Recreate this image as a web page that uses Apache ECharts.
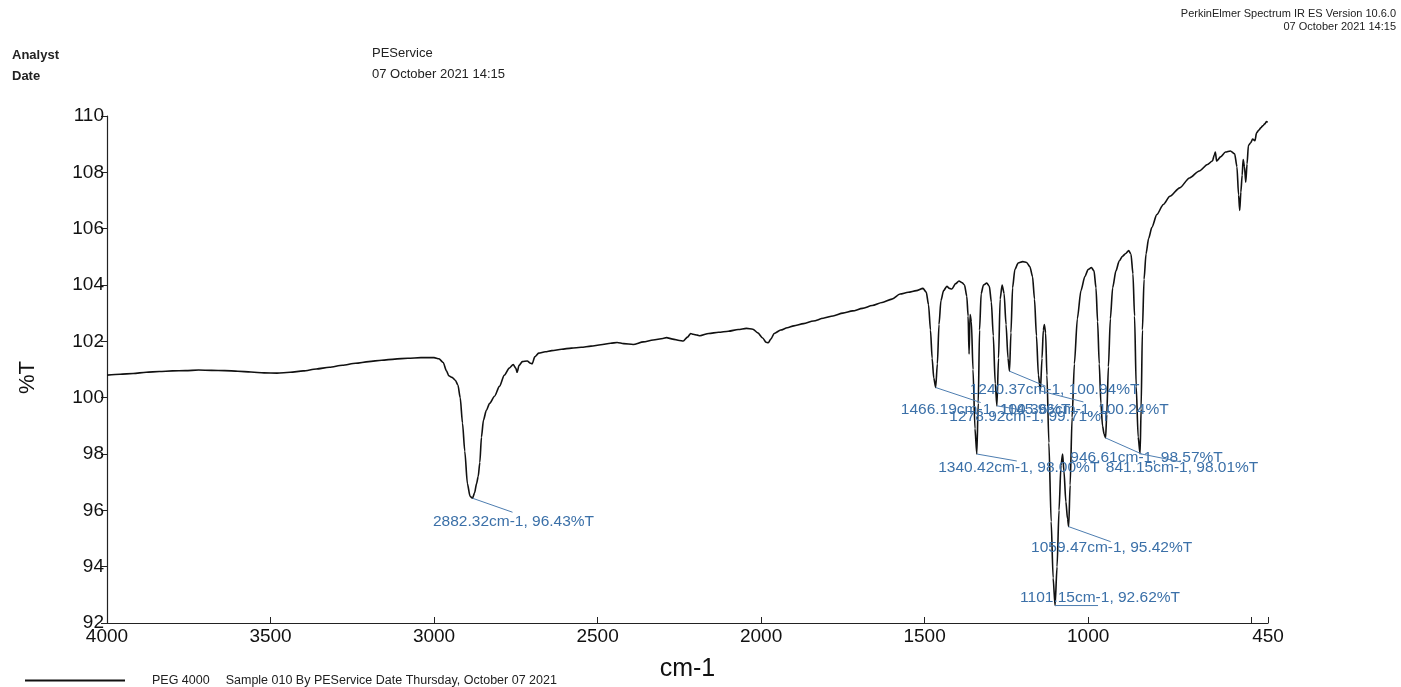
<!DOCTYPE html>
<html>
<head>
<meta charset="utf-8">
<title>PEG 4000 IR spectrum</title>
<script src="https://cdn.jsdelivr.net/npm/echarts@6/dist/echarts.min.js"></script>
<style>
  html, body { margin: 0; padding: 0; background: #fff; }
  #chart { width: 1401px; height: 687px; }
</style>
</head>
<body>
<div id="chart"></div>
<script>
// Spectrum trace: wavenumber (cm-1) and transmittance (%T)
const wavenumbers = [
  4000, 3960, 3920, 3880, 3840, 3800, 3760, 3720, 3680, 3640, 3600, 3560, 3520, 3480, 3440, 3400,
  3360, 3320, 3280, 3240, 3200, 3160, 3120, 3080, 3040, 3000, 2985, 2972, 2962, 2955, 2945, 2935,
  2927, 2920, 2913, 2906, 2898, 2890, 2882.32, 2876, 2870, 2865, 2860, 2855, 2849, 2840, 2830, 2815,
  2800, 2785, 2770, 2758, 2750, 2746, 2740, 2730, 2715, 2705, 2700, 2692, 2680, 2660, 2640, 2610,
  2580, 2550, 2520, 2490, 2460, 2440, 2420, 2391, 2360, 2330, 2300, 2289, 2270, 2250, 2238, 2225,
  2215, 2208, 2195, 2187, 2160, 2130, 2100, 2070, 2045, 2025, 2010, 1995, 1985, 1978, 1970, 1960,
  1940, 1920, 1900, 1870, 1840, 1810, 1780, 1750, 1720, 1690, 1660, 1630, 1600, 1575, 1550, 1525,
  1505, 1495, 1488, 1482, 1477, 1472, 1466.19, 1461, 1456, 1450, 1442, 1432, 1424, 1417, 1405, 1395,
  1385, 1378, 1371, 1367, 1364, 1361, 1357, 1352, 1346, 1340.42, 1336, 1332, 1327, 1320, 1310, 1302,
  1296, 1290, 1284, 1278.92, 1274, 1269, 1263, 1257, 1251, 1245, 1240.37, 1236, 1231, 1224, 1214, 1200,
  1188, 1178, 1170, 1164, 1158, 1152, 1145.96, 1141, 1137, 1134, 1130, 1126, 1120, 1113, 1107, 1101.15,
  1095, 1089, 1083, 1078, 1074, 1068, 1063, 1059.47, 1055, 1049, 1042, 1033, 1022, 1010, 1000, 990,
  982, 976, 971, 966, 961, 956, 951, 946.61, 943, 938, 932, 925, 915, 905, 895, 885,
  876, 869, 863, 858, 853, 847, 841.15, 838, 834, 829, 823, 815, 805, 790, 770, 750,
  720, 690, 660, 635, 620, 614, 611, 607, 595, 580, 565, 552, 545, 540, 536.5, 533,
  529, 526, 522, 518, 514, 510, 503, 497, 490, 485, 478, 472, 466, 460, 455, 451
];
const transmittance = [
  100.80, 100.83, 100.86, 100.90, 100.93, 100.95, 100.96, 100.98, 100.97, 100.96, 100.94, 100.91, 100.88, 100.87, 100.90, 100.95,
  101.02, 101.08, 101.15, 101.22, 101.28, 101.33, 101.37, 101.40, 101.42, 101.42, 101.38, 101.25, 100.95, 100.78, 100.72, 100.62,
  100.45, 100.00, 99.10, 98.10, 96.95, 96.50, 96.43, 96.62, 96.95, 97.20, 97.70, 98.60, 99.20, 99.55, 99.80, 100.05,
  100.40, 100.80, 101.05, 101.18, 101.05, 100.90, 101.15, 101.28, 101.30, 101.22, 101.20, 101.45, 101.58, 101.63, 101.67, 101.72,
  101.76, 101.79, 101.83, 101.88, 101.93, 101.96, 101.92, 101.89, 101.98, 102.05, 102.10, 102.13, 102.08, 102.03, 102.01, 102.15,
  102.28, 102.25, 102.22, 102.20, 102.28, 102.32, 102.36, 102.42, 102.46, 102.43, 102.30, 102.12, 101.97, 101.95, 102.08, 102.28,
  102.40, 102.48, 102.55, 102.63, 102.72, 102.82, 102.90, 103.00, 103.08, 103.17, 103.27, 103.38, 103.50, 103.68, 103.74, 103.80,
  103.88, 103.75, 103.30, 102.40, 101.40, 100.70, 100.36, 101.20, 102.60, 103.45, 103.80, 103.95, 103.88, 103.86, 104.05, 104.14,
  104.08, 104.00, 103.60, 102.90, 101.55, 102.95, 102.70, 101.00, 98.90, 98.00, 99.80, 102.40, 103.70, 104.00, 104.07, 103.95,
  103.40, 102.20, 100.50, 99.71, 101.40, 103.50, 104.00, 103.70, 102.60, 101.40, 100.94, 102.30, 103.90, 104.55, 104.78, 104.83,
  104.80, 104.65, 104.30, 103.50, 102.20, 100.80, 100.24, 101.40, 102.40, 102.60, 102.30, 100.80, 98.40, 95.60, 93.60, 92.62,
  94.00, 96.00, 97.60, 98.00, 97.40, 96.30, 95.70, 95.42, 96.90, 99.30, 101.20, 102.80, 103.80, 104.30, 104.55, 104.62,
  104.50, 103.90, 102.70, 101.20, 99.80, 99.00, 98.70, 98.57, 99.40, 101.10, 102.80, 103.90, 104.50, 104.85, 105.02, 105.12,
  105.22, 105.10, 104.40, 102.90, 100.40, 98.60, 98.01, 99.60, 102.40, 104.20, 105.10, 105.65, 106.05, 106.50, 106.86, 107.15,
  107.45, 107.80, 108.05, 108.28, 108.40, 108.62, 108.72, 108.40, 108.55, 108.72, 108.76, 108.66, 108.20, 107.20, 106.65, 107.30,
  107.90, 108.45, 108.20, 107.65, 108.30, 108.95, 109.05, 109.18, 109.12, 109.40, 109.50, 109.58, 109.65, 109.72, 109.80, 109.78
];

// Peak picks
const peakWavenumbers = [2882.32, 1466.19, 1340.42, 1278.92, 1240.37, 1145.96, 1101.15, 1059.47, 946.61, 841.15];
const peakTransmittance = [96.43, 100.36, 98.00, 99.71, 100.94, 100.24, 92.62, 95.42, 98.57, 98.01];

// Axis ticks
const xTickValues = [4000, 3500, 3000, 2500, 2000, 1500, 1000, 500, 450];
const xLabelValues = [4000, 3500, 3000, 2500, 2000, 1500, 1000, 450];

const sampleName = 'PEG 4000';
const sampleInfo = 'Sample 010 By PEService Date Thursday, October 07 2021';

// Leader line end and label centre, in pixels from each peak: [lineDx, lineDy, textDx, textDy]
const peakLabelLayout = [
  [40, 14, 41, 23],
  [45, 15, 50, 22],
  [40, 7, 42, 14],
  [30, 5, 33, 11],
  [36, 15, 45, 19],
  [43, 11, 44, 19],
  [43, 0, 45, -8],
  [42, 15, 43, 21],
  [36, 16, 41, 20],
  [40, 8, 42, 14]
];

const FONT = '"Liberation Sans", Arial, Helvetica, sans-serif';
const PEAK_BLUE = '#3b70a8';

const trace = wavenumbers.map((w, i) => [w, transmittance[i]]);
const peaks = peakWavenumbers.map((w, i) => [w, peakTransmittance[i]]);

const chart = echarts.init(document.getElementById('chart'), null, { renderer: 'canvas' });

chart.setOption({
  animation: false,
  backgroundColor: '#ffffff',
  textStyle: { fontFamily: FONT },
  grid: { left: 107, right: 133, top: 116, bottom: 63, containLabel: false },
  graphic: [
    { type: 'text', right: 5, top: 8, style: { text: 'PerkinElmer Spectrum IR ES Version 10.6.0', font: '11px ' + FONT, fill: '#222', align: 'right' } },
    { type: 'text', right: 5, top: 21, style: { text: '07 October 2021 14:15', font: '11px ' + FONT, fill: '#222', align: 'right' } },
    { type: 'text', left: 12, top: 49, style: { text: 'Analyst', font: 'bold 13px ' + FONT, fill: '#222' } },
    { type: 'text', left: 12, top: 70, style: { text: 'Date', font: 'bold 13px ' + FONT, fill: '#222' } },
    { type: 'text', left: 372, top: 47, style: { text: 'PEService', font: '13px ' + FONT, fill: '#222' } },
    { type: 'text', left: 372, top: 68, style: { text: '07 October 2021 14:15', font: '13px ' + FONT, fill: '#222' } }
  ],
  legend: {
    data: [sampleName],
    left: 20,
    top: 669,
    icon: 'rect',
    itemWidth: 100,
    itemHeight: 2,
    formatter: name => '{a|' + name + '}{b|' + sampleInfo + '}',
    textStyle: {
      color: '#222',
      fontFamily: FONT,
      rich: {
        a: { fontSize: 12.5, color: '#222', fontFamily: FONT, padding: [0, 0, 0, 22] },
        b: { fontSize: 12.5, color: '#222', fontFamily: FONT, padding: [0, 0, 0, 16] }
      }
    },
    selectedMode: false
  },
  xAxis: {
    type: 'value',
    inverse: true,
    min: 450,
    max: 4000,
    name: 'cm-1',
    nameLocation: 'middle',
    nameGap: 34,
    nameTextStyle: { fontSize: 25, color: '#111', fontFamily: FONT },
    axisLine: { lineStyle: { color: '#222', width: 1.2 } },
    axisTick: { inside: true, length: 6, customValues: xTickValues, lineStyle: { color: '#222' } },
    axisLabel: { customValues: xLabelValues, formatter: v => String(v), fontSize: 19, color: '#111', margin: 4, fontFamily: FONT },
    splitLine: { show: false }
  },
  yAxis: {
    type: 'value',
    min: 92,
    max: 110,
    interval: 2,
    name: '%T',
    nameLocation: 'middle',
    nameRotate: 90,
    nameGap: 68,
    nameTextStyle: { fontSize: 22, color: '#111', fontFamily: FONT, padding: [0, 16, 0, 0] },
    axisLine: { show: true, lineStyle: { color: '#222', width: 1.2 } },
    axisTick: { show: true, inside: false, length: 6, lineStyle: { color: '#222' } },
    axisLabel: { formatter: v => String(v), fontSize: 19, color: '#111', margin: 3, fontFamily: FONT },
    splitLine: { show: false }
  },
  series: [
    {
      name: sampleName,
      type: 'line',
      data: trace,
      showSymbol: false,
      smooth: 0.25,
      smoothMonotone: 'x',
      color: '#111',
      lineStyle: { color: '#111', width: 1.6 },
      z: 3
    },
    {
      name: 'peaks',
      type: 'custom',
      data: peaks,
      encode: { x: 0, y: 1 },
      clip: false,
      z: 5,
      renderItem: (params, api) => {
        const i = params.dataIndex;
        const p = api.coord([api.value(0), api.value(1)]);
        const o = peakLabelLayout[i];
        const label = peakWavenumbers[i].toFixed(2) + 'cm-1, ' + peakTransmittance[i].toFixed(2) + '%T';
        return {
          type: 'group',
          children: [
            { type: 'line', shape: { x1: p[0], y1: p[1], x2: p[0] + o[0], y2: p[1] + o[1] }, style: { stroke: '#4d7db0', lineWidth: 1 } },
            { type: 'text', x: p[0] + o[2], y: p[1] + o[3], style: { text: label, fill: PEAK_BLUE, font: '15.5px ' + FONT, align: 'center', verticalAlign: 'middle' } }
          ]
        };
      }
    }
  ]
});
</script>
</body>
</html>
